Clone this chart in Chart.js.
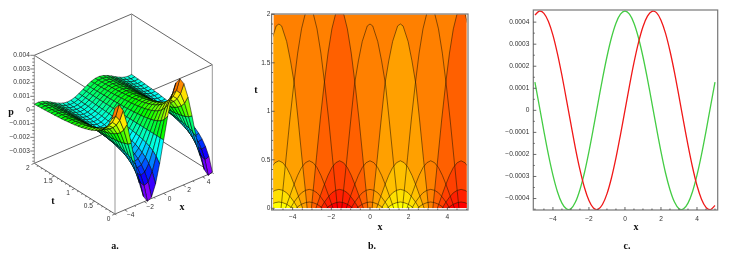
<!DOCTYPE html>
<html>
<head>
<meta charset="utf-8">
<script src="https://cdn.jsdelivr.net/npm/chart.js@4"></script>
<style>
  html, body { margin: 0; padding: 0; background: #fff; overflow: hidden; width: 730px; height: 255px; }
  canvas { position: absolute; top: 0; }
  .lbl { position: absolute; transform: translate(-50%, -50%); font: bold 10px "Liberation Serif", serif; color: #111; }
</style>
</head>
<body>
<canvas id="graficoA" width="240" height="255" style="left:0"></canvas>
<canvas id="graficoB" width="240" height="255" style="left:245px"></canvas>
<canvas id="graficoC" width="240" height="255" style="left:490px"></canvas>
<span class="lbl" style="left:11px;top:111px">p</span>
<span class="lbl" style="left:53px;top:200px">t</span>
<span class="lbl" style="left:182px;top:206px">x</span>
<span class="lbl" style="left:115px;top:245px">a.</span>
<span class="lbl" style="left:256px;top:89px">t</span>
<span class="lbl" style="left:380px;top:226px">x</span>
<span class="lbl" style="left:372px;top:245px">b.</span>
<span class="lbl" style="left:636px;top:226px">x</span>
<span class="lbl" style="left:627px;top:245px">c.</span>
<script>
// panel a: surface p(x,t), heights in units of 0.00001
var surfaceX = [-5,-4.583,-4.167,-3.75,-3.333,-2.917,-2.5,-2.083,-1.667,-1.25,-0.833,-0.417,0,0.417,0.833,1.25,1.667,2.083,2.5,2.917,3.333,3.75,4.167,4.583,5];
var surfaceT = [0,0.083,0.167,0.25,0.333,0.417,0.5,0.583,0.667,0.75,0.833,0.917,1,1.083,1.167,1.25,1.333,1.417,1.5,1.583,1.667,1.75,1.833,1.917,2];
var surfaceZ = [
  [384,397,341,229,76,-89,-239,-349,-398,-380,-296,-162,0,162,296,380,398,349,239,89,-76,-229,-341,-397,-384],
  [288,298,256,172,57,-67,-179,-262,-299,-285,-222,-122,0,122,222,285,299,262,179,67,-57,-172,-256,-298,-288],
  [230,238,205,137,46,-54,-144,-209,-239,-228,-178,-97,0,97,178,228,239,209,144,54,-46,-137,-205,-238,-230],
  [192,198,171,114,38,-45,-120,-174,-199,-190,-148,-81,0,81,148,190,199,174,120,45,-38,-114,-171,-198,-192],
  [164,170,146,98,32,-38,-102,-149,-170,-162,-127,-69,0,69,127,162,170,149,102,38,-32,-98,-146,-170,-164],
  [144,149,128,86,29,-33,-90,-131,-149,-142,-111,-61,0,61,111,142,149,131,90,33,-29,-86,-128,-149,-144],
  [128,132,113,76,25,-30,-80,-116,-132,-126,-98,-54,0,54,98,126,132,116,80,30,-25,-76,-113,-132,-128],
  [115,119,102,69,23,-27,-72,-105,-119,-114,-89,-49,0,49,89,114,119,105,72,27,-23,-69,-102,-119,-115],
  [105,108,93,62,21,-24,-65,-95,-108,-103,-81,-44,0,44,81,103,108,95,65,24,-21,-62,-93,-108,-105],
  [96,99,85,57,19,-22,-60,-87,-100,-95,-74,-41,0,41,74,95,100,87,60,22,-19,-57,-85,-99,-96],
  [88,91,78,53,17,-21,-55,-80,-92,-87,-68,-37,0,37,68,87,92,80,55,21,-17,-53,-78,-91,-88],
  [82,85,73,49,16,-19,-51,-75,-86,-82,-64,-35,0,35,64,82,86,75,51,19,-16,-49,-73,-85,-82],
  [77,79,68,46,15,-18,-48,-70,-80,-76,-59,-32,0,32,59,76,80,70,48,18,-15,-46,-68,-79,-77],
  [72,74,64,43,14,-17,-45,-65,-75,-71,-56,-30,0,30,56,71,75,65,45,17,-14,-43,-64,-74,-72],
  [68,70,61,41,13,-16,-42,-62,-71,-67,-53,-29,0,29,53,67,71,62,42,16,-13,-41,-61,-70,-68],
  [64,66,57,38,13,-15,-40,-58,-67,-64,-50,-27,0,27,50,64,67,58,40,15,-13,-38,-57,-66,-64],
  [60,62,54,36,12,-14,-38,-55,-63,-60,-47,-26,0,26,47,60,63,55,38,14,-12,-36,-54,-62,-60],
  [58,60,51,34,11,-13,-36,-52,-60,-57,-44,-24,0,24,44,57,60,52,36,13,-11,-34,-51,-60,-58],
  [55,57,49,33,11,-13,-34,-50,-57,-54,-42,-23,0,23,42,54,57,50,34,13,-11,-33,-49,-57,-55],
  [53,55,47,31,10,-12,-33,-48,-55,-52,-41,-22,0,22,41,52,55,48,33,12,-10,-31,-47,-55,-53],
  [50,52,44,30,10,-12,-31,-45,-52,-49,-38,-21,0,21,38,49,52,45,31,12,-10,-30,-44,-52,-50],
  [48,50,43,29,10,-11,-30,-44,-50,-47,-37,-20,0,20,37,47,50,44,30,11,-10,-29,-43,-50,-48],
  [46,48,41,27,9,-11,-29,-42,-48,-46,-36,-19,0,19,36,46,48,42,29,11,-9,-27,-41,-48,-46],
  [44,46,39,26,9,-10,-28,-40,-46,-44,-34,-19,0,19,34,44,46,40,28,10,-9,-26,-39,-46,-44],
  [42,44,38,25,8,-10,-26,-38,-44,-42,-33,-18,0,18,33,42,44,38,26,10,-8,-25,-38,-44,-42]
];
var colorZ = [-400,-300,-200,-100,-45,0,45,100,200,300,400];
var colorHue = [295,255,225,190,172,150,130,105,68,42,8];
var aZTicks = [0.004,0.003,0.002,0.001,0,-0.001,-0.002,-0.003];
var aZLabels = ['0.004','0.003','0.002','0.001','0','\u22120.001','\u22120.002','\u22120.003'];
var aXTicks = [-4,-2,0,2,4];
var aXLabels = ['\u22124','\u22122','0','2','4'];
var aTTicks = [0,0.5,1,1.5,2];
var aTLabels = ['0','0.5','1','1.5','2'];

// panel b: contour arcs around each lobe, half width from the lobe centre and height t
var lobeCenters = [-4.71,-3.14,-1.57,0,1.57,3.14,4.71];
var lobeHigh = [false,true,true,false,false,true,true];
var arc1Off = [0,0.14,0.4,0.6,0.8,1,1.2,1.35,1.46];
var arc1Low = [1.9,1.88,1.72,1.52,1.28,0.9,0.5,0.22,0];
var arc1High = [2.08,2.06,1.85,1.6,1.28,0.92,0.52,0.22,0];
var arc2Off = [0,0.2,0.4,0.6,0.8,1,1.23];
var arc2T = [0.49,0.47,0.42,0.34,0.24,0.13,0];
var arc3Off = [0,0.2,0.4,0.6,0.8,0.98];
var arc3T = [0.195,0.185,0.16,0.115,0.06,0];
var arc4Off = [0,0.2,0.4,0.6,0.68];
var arc4T = [0.065,0.058,0.042,0.016,0];
var warmFills = ['#ffa000','#ffc000','#ffe000','#ffff00'];
var hotFills = ['#ff6000','#ff4000','#ff2000','#ff0000'];
var bXTicks = [-4,-2,0,2,4];
var bXLabels = ['\u22124','\u22122','0','2','4'];
var bTTicks = [0,0.5,1,1.5,2];
var bTLabels = ['0','0.5','1','1.5','2'];
var bXMinor = [-5,-4.5,-3.5,-3,-2.5,-1.5,-1,-0.5,0.5,1,1.5,2.5,3,3.5,4.5,5];
var bTMinor = [0.1,0.2,0.3,0.4,0.6,0.7,0.8,0.9,1.1,1.2,1.3,1.4,1.6,1.7,1.8,1.9];

// panel c
var cX = [-5,-4.75,-4.5,-4.25,-4,-3.75,-3.5,-3.25,-3,-2.75,-2.5,-2.25,-2,-1.75,-1.5,-1.25,-1,-0.75,-0.5,-0.25,0,0.25,0.5,0.75,1,1.25,1.5,1.75,2,2.25,2.5,2.75,3,3.25,3.5,3.75,4,4.25,4.5,4.75,5];
var cRed = [4.32,4.5,4.4,4.03,3.41,2.57,1.58,0.49,-0.63,-1.72,-2.69,-3.5,-4.09,-4.43,-4.49,-4.27,-3.79,-3.07,-2.16,-1.11,0,1.11,2.16,3.07,3.79,4.27,4.49,4.43,4.09,3.5,2.69,1.72,0.63,-0.49,-1.58,-2.57,-3.41,-4.03,-4.4,-4.5,-4.32];
var cGreen = [1.28,0.17,-0.95,-2.01,-2.94,-3.69,-4.21,-4.47,-4.46,-4.16,-3.6,-2.83,-1.87,-0.8,0.32,1.42,2.43,3.29,3.95,4.36,4.5,4.36,3.95,3.29,2.43,1.42,0.32,-0.8,-1.87,-2.83,-3.6,-4.16,-4.46,-4.47,-4.21,-3.69,-2.94,-2.01,-0.95,0.17,1.28];
var cXTicks = [-4,-2,0,2,4];
var cXLabels = ['\u22124','\u22122','0','2','4'];
var cYTicks = [-4,-3,-2,-1,0,1,2,3,4];
var cYLabels = ['\u22120.0004','\u22120.0003','\u22120.0002','\u22120.0001','0','0.0001','0.0002','0.0003','0.0004'];
var cXMinor = [-5,-4.5,-3.5,-3,-2.5,-1.5,-1,-0.5,0.5,1,1.5,2.5,3,3.5,4.5,5];
var cYMinor = [-3.5,-2.5,-1.5,-0.5,0.5,1.5,2.5,3.5];

Chart.defaults.font.family = '"Liberation Sans", sans-serif';
Chart.defaults.font.size = 6.6;
Chart.defaults.color = '#333';
Chart.defaults.animation = false;
Chart.defaults.responsive = false;
Chart.defaults.plugins.legend.display = false;
Chart.defaults.plugins.tooltip.enabled = false;

// ---------- panel a ----------
function proyectar(x, t, z) {
  return {
    x: 115 + (x + 5) / 10 * 97.3 - t / 2 * 80.7,
    y: 214 - (x + 5) / 10 * 41.3 - t / 2 * 50.7 - (z + 0.0039) / 0.001 * 13.67
  };
}

function colorDe(z) {
  var i = 0;
  while (i < colorZ.length - 2 && z > colorZ[i + 1]) i++;
  var f = (z - colorZ[i]) / (colorZ[i + 1] - colorZ[i]);
  return 'hsl(' + (colorHue[i] + f * (colorHue[i + 1] - colorHue[i])) + ',100%,50%)';
}

var puntos = [];
surfaceT.forEach(function (t, k) {
  surfaceX.forEach(function (x, i) {
    puntos.push(proyectar(x, t, surfaceZ[k][i] * 1e-5));
  });
});

var boxX = [-5, 5], boxT = [0, 2], boxZ = [-0.0039, 0.004];
var aristas = [];
function arista(a, b, color) {
  aristas.push({ type: 'line', data: [proyectar(a[0], a[1], a[2]), proyectar(b[0], b[1], b[2])], borderColor: color, borderWidth: 1, pointRadius: 0, order: 2 });
}
boxX.forEach(function (x) {
  boxT.forEach(function (t) {
    arista([x, t, boxZ[0]], [x, t, boxZ[1]], '#999');
  });
});
boxZ.forEach(function (z) {
  boxT.forEach(function (t) { arista([-5, t, z], [5, t, z], '#666'); });
  boxX.forEach(function (x) { arista([x, 0, z], [x, 2, z], '#666'); });
});

function palito(ctx, p, dx, dy) {
  ctx.beginPath();
  ctx.moveTo(p.x, p.y);
  ctx.lineTo(p.x + dx, p.y + dy);
  ctx.stroke();
}

var superficie = {
  id: 'superficie',
  afterDatasetsDraw: function (chart) {
    var ctx = chart.ctx;
    var els = chart.getDatasetMeta(0).data;
    var n = surfaceX.length;
    ctx.save();
    ctx.lineWidth = 0.65;
    ctx.strokeStyle = 'rgba(0,0,0,0.8)';
    for (var k = surfaceT.length - 1; k > 0; k--) {
      for (var i = n - 1; i > 0; i--) {
        var a = els[k * n + i], b = els[k * n + i - 1], c = els[(k - 1) * n + i - 1], d = els[(k - 1) * n + i];
        var zm = (surfaceZ[k][i] + surfaceZ[k][i - 1] + surfaceZ[k - 1][i - 1] + surfaceZ[k - 1][i]) / 4;
        ctx.beginPath();
        ctx.moveTo(a.x, a.y); ctx.lineTo(b.x, b.y); ctx.lineTo(c.x, c.y); ctx.lineTo(d.x, d.y);
        ctx.closePath();
        ctx.fillStyle = colorDe(zm);
        ctx.fill();
        ctx.stroke();
      }
    }
    ctx.restore();

    // marcas y etiquetas de los tres ejes
    var xs = chart.scales.x, ys = chart.scales.y;
    function pix(x, t, z) {
      var p = proyectar(x, t, z);
      return { x: xs.getPixelForValue(p.x), y: ys.getPixelForValue(p.y) };
    }
    ctx.save();
    ctx.strokeStyle = '#555';
    ctx.lineWidth = 0.8;
    ctx.fillStyle = '#333';
    ctx.font = '6.6px "Liberation Sans", sans-serif';
    ctx.textBaseline = 'middle';
    ctx.textAlign = 'right';
    aZTicks.forEach(function (z, i) {
      var p = pix(-5, 2, z);
      palito(ctx, p, -4, 0);
      ctx.fillText(aZLabels[i], p.x - 4.5, p.y);
      for (var m = 1; m < 4 && z - m * 0.00025 > -0.0039; m++) {
        palito(ctx, pix(-5, 2, z - m * 0.00025), -2, 0);
      }
    });
    ctx.textAlign = 'center';
    aXTicks.forEach(function (x, i) {
      var p = pix(x, 0, boxZ[0]);
      palito(ctx, p, 2.6, 1.6);
      ctx.fillText(aXLabels[i], p.x + 6, p.y + 5.5);
      if (x < 5) palito(ctx, pix(x + 1, 0, boxZ[0]), 1.4, 0.9);
      if (i == 0) palito(ctx, pix(-5, 0, boxZ[0]), 1.4, 0.9);
    });
    aTTicks.forEach(function (t, i) {
      var p = pix(-5, t, boxZ[0]);
      palito(ctx, p, -2.8, 1.2);
      ctx.fillText(aTLabels[i], p.x - 6.5, p.y + 4.7);
      if (t < 2) {
        for (var m = 1; m < 5; m++) palito(ctx, pix(-5, t + m * 0.1, boxZ[0]), -1.5, 0.6);
      }
    });
    ctx.restore();
  }
};

new Chart(document.getElementById('graficoA'), {
  type: 'scatter',
  data: {
    datasets: [{ data: puntos, pointRadius: 0, showLine: false, order: 1 }].concat(aristas)
  },
  options: {
    layout: { padding: 0 },
    scales: {
      x: { type: 'linear', display: false, min: 0, max: 240 },
      y: { type: 'linear', display: false, min: 0, max: 255, reverse: true }
    }
  },
  plugins: [superficie]
});

// ---------- marco con marcas hacia dentro, paneles b y c ----------
function marcoPlugin(cfg) {
  return {
    id: 'marco',
    afterDatasetsDraw: function (chart) {
      var ctx = chart.ctx, a = chart.chartArea;
      var xs = chart.scales.x, ys = chart.scales.y;
      var l = a.left - cfg.gap[0], r = a.right + cfg.gap[1], t = a.top - cfg.gap[2], b = a.bottom + cfg.gap[3];
      ctx.save();
      ctx.strokeStyle = '#777';
      ctx.lineWidth = 1.2;
      ctx.strokeRect(l, t, r - l, b - t);
      ctx.strokeStyle = '#444';
      ctx.lineWidth = 0.8;
      function marca(x1, y1, x2, y2) {
        ctx.beginPath(); ctx.moveTo(x1, y1); ctx.lineTo(x2, y2); ctx.stroke();
      }
      cfg.xMajor.forEach(function (v) { var p = xs.getPixelForValue(v); marca(p, b, p, b - 3); });
      cfg.xMinor.forEach(function (v) { var p = xs.getPixelForValue(v); marca(p, b, p, b - 1.5); });
      cfg.yMajor.forEach(function (v) { var p = ys.getPixelForValue(v); marca(l, p, l + 3, p); });
      cfg.yMinor.forEach(function (v) { var p = ys.getPixelForValue(v); marca(l, p, l + 1.5, p); });
      ctx.restore();
    }
  };
}

function eje(min, max, valores, etiquetas, tam, relleno) {
  return {
    type: 'linear', min: min, max: max,
    grid: { display: false, drawTicks: false },
    border: { display: false },
    afterBuildTicks: function (axis) { axis.ticks = valores.map(function (v) { return { value: v }; }); },
    afterFit: function (axis) {
      if (axis.isHorizontal()) axis.height = tam; else axis.width = tam;
    },
    ticks: {
      autoSkip: false, maxRotation: 0, padding: relleno,
      callback: function (v) { return etiquetas[valores.indexOf(v)]; }
    }
  };
}

// ---------- panel b ----------
function arco(centro, off, ts) {
  var pts = [];
  for (var i = off.length - 1; i > 0; i--) pts.push({ x: centro - off[i], y: ts[i] });
  for (var j = 0; j < off.length; j++) pts.push({ x: centro + off[j], y: ts[j] });
  return pts;
}

var niveles = lobeCenters.map(function (c, i) {
  return [
    arco(c, arc1Off, lobeHigh[i] ? arc1High : arc1Low),
    arco(c, arc2Off, arc2T),
    arco(c, arc3Off, arc3T),
    arco(c, arc4Off, arc4T)
  ];
});

var datosB = [{ data: [{ x: -5, y: 2 }, { x: 5, y: 2 }], fill: 'origin', backgroundColor: '#ff8000', borderWidth: 0, pointRadius: 0 }];
[0, 1, 2, 3].forEach(function (n) {
  [[0, warmFills], [4, warmFills], [2, hotFills], [6, hotFills]].forEach(function (par) {
    datosB.push({ data: niveles[par[0]][n], fill: 'origin', backgroundColor: par[1][n], borderWidth: 0, pointRadius: 0 });
  });
});
niveles.forEach(function (lobulo) {
  lobulo.forEach(function (pts) {
    datosB.push({ data: pts, fill: false, borderColor: 'rgba(40,25,0,0.75)', borderWidth: 0.75, pointRadius: 0 });
  });
});
datosB.forEach(function (d, i) { d.order = datosB.length - i; });

new Chart(document.getElementById('graficoB'), {
  type: 'line',
  data: { datasets: datosB },
  options: {
    layout: { padding: { top: 14.3, right: 18.3, left: 0, bottom: 0 } },
    scales: {
      x: eje(-5, 5, bXTicks, bXLabels, 46.7, 5),
      y: eje(0, 2, bTTicks, bTLabels, 28.3, 3)
    }
  },
  plugins: [marcoPlugin({ gap: [1.7, 1.3, 0.3, 1.7], xMajor: bXTicks, xMinor: bXMinor, yMajor: bTTicks, yMinor: bTMinor })]
});

// ---------- panel c, valores en unidades de 0.0001 ----------
new Chart(document.getElementById('graficoC'), {
  type: 'line',
  data: {
    labels: cX,
    datasets: [
      { data: cX.map(function (x, i) { return { x: x, y: cRed[i] }; }), borderColor: '#f01818', borderWidth: 1.3, pointRadius: 0, tension: 0.35 },
      { data: cX.map(function (x, i) { return { x: x, y: cGreen[i] }; }), borderColor: '#44cc44', borderWidth: 1.3, pointRadius: 0, tension: 0.35 }
    ]
  },
  options: {
    layout: { padding: { top: 10, right: 12.3, left: 0, bottom: 0 } },
    scales: {
      x: eje(-5.09, 5.15, cXTicks, cXLabels, 45, 5),
      y: eje(-4.52, 4.55, cYTicks, cYLabels, 43.3, 4)
    }
  },
  plugins: [marcoPlugin({ gap: [0, 0, 0, 0], xMajor: cXTicks, xMinor: cXMinor, yMajor: cYTicks, yMinor: cYMinor })]
});
</script>
</body>
</html>
